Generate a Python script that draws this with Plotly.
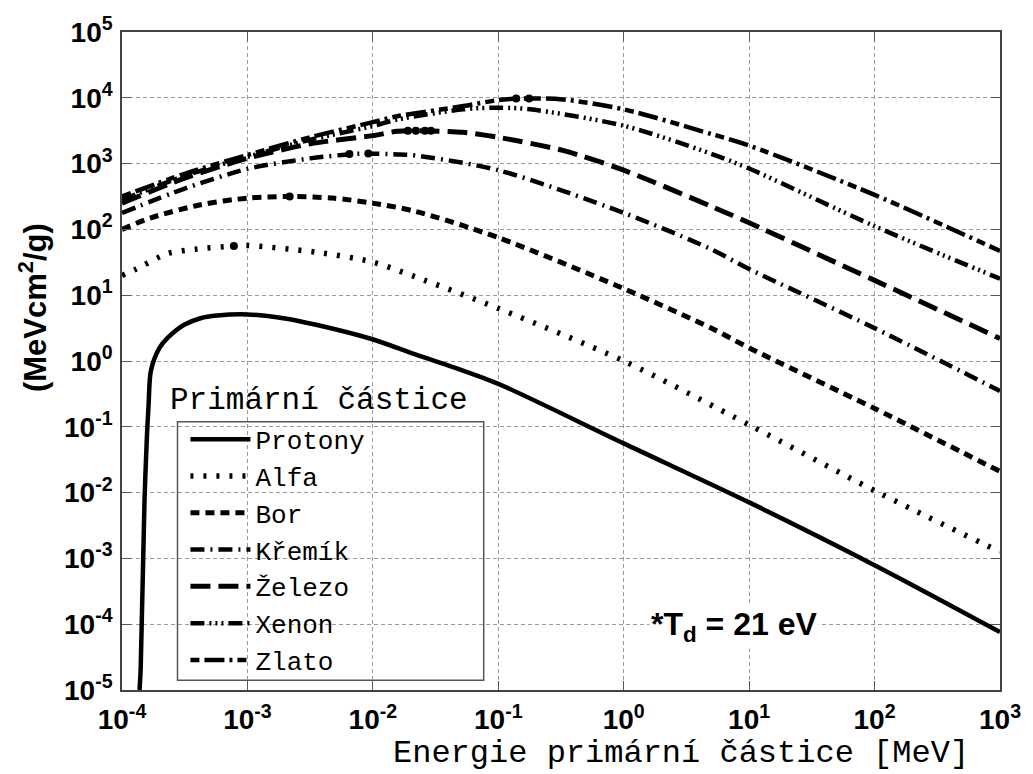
import plotly.graph_objects as go

# Energie primární částice [MeV] a odpovídající hodnoty (MeVcm^2/g)
protony_E = [1.38e-4, 1.41e-4, 1.51e-4, 1.58e-4, 1.63e-4, 1.70e-4, 1.99e-4, 2.31e-4,
             3.13e-4, 4.23e-4, 5.73e-4, 1.0e-3, 1.93e-3, 3.53e-3, 9.9e-3, 2.18e-2,
             4.6e-2, 0.1, 1.0, 10.0, 100.0, 1000.0]
protony_S = [1.0e-5, 2.2e-5, 7.1e-3, 0.072, 0.22, 0.71, 1.58, 2.24,
             3.55, 4.47, 4.9, 5.1, 4.47, 3.55, 2.14, 1.26,
             0.78, 0.45, 0.056, 7.1e-3, 7.9e-4, 7.6e-5]

alfa_E = [1.0e-4, 1.3e-4, 2.31e-4, 3.85e-4, 7.8e-4, 1.0e-3, 3.53e-3, 9.9e-3,
          2.18e-2, 0.1, 1.0, 10.0, 100.0, 1000.0]
alfa_S = [20, 25, 43, 50, 56, 57, 45, 32, 19, 6.3, 1.0, 0.107, 0.0107, 1.26e-3]

bor_E = [1.0e-4, 1.7e-4, 4.23e-4, 1.0e-3, 2.17e-3, 4.8e-3, 9.9e-3, 2.18e-2,
         0.1, 1.0, 4.98, 10.0, 100.0, 1000.0]
bor_S = [100, 150, 237, 299, 316, 299, 251, 188, 75, 12.6, 3.16, 1.58, 0.19, 0.021]

kremik_E = [1.0e-4, 3.16e-4, 1.0e-3, 3.16e-3, 7.8e-3, 1.57e-2, 2.18e-2, 0.1,
            1.0, 4.98, 10.0, 100.0, 1000.0]
kremik_S = [178, 417, 830, 1200, 1410, 1380, 1330, 794, 178, 50, 25, 3.16, 0.35]

zelezo_E = [1.0e-4, 3.16e-4, 1.0e-3, 3.16e-3, 1.0e-2, 1.57e-2, 2.39e-2, 5.28e-2,
            0.1, 0.326, 1.0, 4.98, 10.0, 100.0, 1000.0]
zelezo_S = [250, 600, 1200, 2000, 2660, 3100, 3160, 2985,
            2510, 1585, 794, 224, 126, 16.8, 2.2]

xenon_E = [1.0e-4, 3.16e-4, 1.0e-3, 3.16e-3, 1.0e-2, 1.57e-2, 5.28e-2, 0.1,
           0.179, 1.0, 4.98, 10.0, 100.0, 1000.0]
xenon_S = [280, 650, 1260, 2300, 3715, 4680, 6680, 7080,
           6680, 3760, 1413, 841, 112, 17.8]

zlato_E = [1.0e-4, 3.16e-4, 1.0e-3, 3.16e-3, 1.0e-2, 1.57e-2, 5.28e-2, 0.1,
           0.158, 0.326, 1.0, 4.98, 10.0, 100.0, 1000.0]
zlato_S = [316, 700, 1350, 2510, 4270, 5250, 7500, 9230,
           9770, 9440, 6680, 2820, 1880, 335, 47]

# Body maxim vyznačené na křivkách
maxima_E = [7.8e-4, 2.17e-3, 6.5e-3, 9.2e-3, 1.9e-2, 2.2e-2, 2.6e-2, 2.9e-2, 0.139, 0.176]
maxima_S = [56, 316, 1400, 1420, 3160, 3160, 3160, 3160, 9770, 9770]

nazvy = ["Protony", "Alfa", "Bor", "Křemík", "Železo", "Xenon", "Zlato"]
energie = [protony_E, alfa_E, bor_E, kremik_E, zelezo_E, xenon_E, zlato_E]
hodnoty = [protony_S, alfa_S, bor_S, kremik_S, zelezo_S, xenon_S, zlato_S]
styly = [
    ("solid", 4.5),
    ("3px,10px", 5.5),
    ("9px,6px", 5),
    ("14px,6px,2px,6px", 4.5),
    ("20px,8px", 5),
    ("14px,5px,2px,4px,2px,4px,2px,5px", 4.5),
    ("9px,5px,20px,5px,3px,5px", 4.5),
]

fig = go.Figure()
for nazev, E, S, (dash, w) in zip(nazvy, energie, hodnoty, styly):
    fig.add_trace(go.Scatter(
        x=E, y=S, mode="lines", name=nazev, legendgroup=nazev,
        line=dict(color="black", width=w, dash=dash, shape="spline", smoothing=0.8),
    ))

fig.add_trace(go.Scatter(
    x=maxima_E, y=maxima_S, mode="markers", showlegend=False,
    marker=dict(color="black", size=8, symbol="circle"),
))

dekady_x = [-4, -3, -2, -1, 0, 1, 2, 3]
dekady_y = [-5, -4, -3, -2, -1, 0, 1, 2, 3, 4, 5]

osa = dict(
    type="log",
    showgrid=True, gridcolor="#9a9a9a", gridwidth=1, griddash="4px,3px",
    showline=True, linecolor="#444", linewidth=1.5, mirror="allticks",
    ticks="inside", ticklen=9, tickcolor="#555", tickwidth=1.2,
    tickfont=dict(family="Liberation Sans", size=28, color="black", weight="bold"),
    zeroline=False,
)

fig.update_xaxes(
    **osa, range=[-4, 3], ticklabelstandoff=4,
    tickvals=[10.0 ** d for d in dekady_x],
    ticktext=[f"10<sup>{d}</sup>" for d in dekady_x],
)
fig.update_yaxes(
    **osa, range=[-5, 5], ticklabelstandoff=2,
    tickvals=[10.0 ** d for d in dekady_y],
    ticktext=[f"10<sup>{d}</sup>" for d in dekady_y],
)

mono = "Liberation Mono"

# rámeček legendy
fig.add_shape(type="rect", xref="paper", yref="paper",
              x0=(178 - 122) / 886, x1=(487 - 122) / 886,
              y0=(690 - 680) / 667, y1=(690 - 418) / 667,
              line=dict(color="#555", width=1.5), fillcolor="white", layer="below")

fig.add_annotation(text="Primární částice", xref="paper", yref="paper",
                   x=(168 - 122) / 886, y=(690 - 397) / 667, xanchor="left", yanchor="middle",
                   showarrow=False, font=dict(family=mono, size=31, color="black"))

fig.add_annotation(text="Energie primární částice [MeV]", xref="paper", yref="paper",
                   x=(686 - 122) / 886, y=(690 - 774) / 667, xanchor="center", yanchor="bottom",
                   showarrow=False, borderpad=0,
                   font=dict(family=mono, size=32, color="black"))

fig.add_annotation(text="(MeVcm<sup>2</sup>/g)", xref="paper", yref="paper",
                   x=(32 - 122) / 886, y=(690 - 302) / 667, xanchor="center", yanchor="middle",
                   textangle=-90, showarrow=False,
                   font=dict(family="Liberation Sans", size=31, color="black", weight="bold"))

fig.add_annotation(text="*T<sub>d</sub> = 21 eV", xref="paper", yref="paper",
                   x=(740 - 122) / 886, y=(690 - 626) / 667, xanchor="center", yanchor="middle",
                   showarrow=False, bgcolor="white",
                   font=dict(family="Liberation Sans", size=32, color="black", weight="bold"))

fig.update_layout(
    width=1033, height=774,
    margin=dict(l=122, r=25, t=23, b=84),
    paper_bgcolor="white", plot_bgcolor="white",
    showlegend=True,
    legend=dict(
        x=(186 - 122) / 886, y=(690 - 412) / 667, xanchor="left", yanchor="top",
        bgcolor="rgba(0,0,0,0)", borderwidth=0,
        font=dict(family=mono, size=26, color="black"),
        tracegroupgap=0, itemwidth=60,
    ),
)

fig.write_html("out.html")
